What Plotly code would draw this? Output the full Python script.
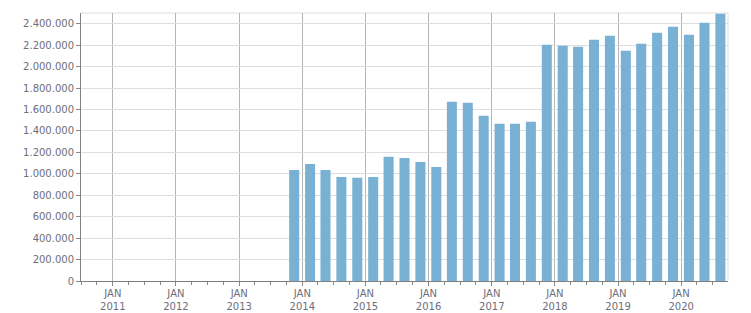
import plotly.graph_objects as go

# Quarterly observations (bar centred mid-quarter)
periods = [
    "2013-11-15",
    "2014-02-15", "2014-05-15", "2014-08-15", "2014-11-15",
    "2015-02-15", "2015-05-15", "2015-08-15", "2015-11-15",
    "2016-02-15", "2016-05-15", "2016-08-15", "2016-11-15",
    "2017-02-15", "2017-05-15", "2017-08-15", "2017-11-15",
    "2018-02-15", "2018-05-15", "2018-08-15", "2018-11-15",
    "2019-02-15", "2019-05-15", "2019-08-15", "2019-11-15",
    "2020-02-15", "2020-05-15", "2020-08-15",
]
values = [
    1036000,
    1092000, 1036000, 971000, 962000,
    971000, 1158000, 1148000, 1111000,
    1064000, 1671000, 1662000, 1541000,
    1466000, 1466000, 1485000, 2204000,
    2194000, 2185000, 2250000, 2288000,
    2148000, 2213000, 2316000, 2372000,
    2297000, 2409000, 2493000,
]

year_ticks = ["2011-01-01", "2012-01-01", "2013-01-01", "2014-01-01", "2015-01-01",
              "2016-01-01", "2017-01-01", "2018-01-01", "2019-01-01", "2020-01-01"]
year_labels = ["JAN<br>2011", "JAN<br>2012", "JAN<br>2013", "JAN<br>2014", "JAN<br>2015",
               "JAN<br>2016", "JAN<br>2017", "JAN<br>2018", "JAN<br>2019", "JAN<br>2020"]

BAR_W_MS = 58 * 86400000

fig = go.Figure(
    go.Bar(
        x=periods,
        y=values,
        width=[BAR_W_MS] * len(values),
        marker=dict(color="#78b1d3", line=dict(width=0)),
        hoverinfo="x+y",
    )
)

font_col = "#6e6e7a"
FONT = "DejaVu Sans"
fig.update_layout(
    width=751,
    height=313,
    margin=dict(l=81, r=23, t=13, b=32),
    paper_bgcolor="white",
    plot_bgcolor="white",
    separators=",.",
    showlegend=False,
    font=dict(family=FONT, size=10, color=font_col),
    xaxis=dict(
        type="date",
        automargin=False,
        range=["2010-07-01", "2020-09-28"],
        tickvals=year_ticks,
        ticktext=year_labels,
        ticks="outside",
        ticklen=4,
        tickcolor="#888888",
        ticklabelstandoff=-1,
        showgrid=True,
        gridcolor="#b5b5b5",
        gridwidth=1,
        showline=True,
        linecolor="#808080",
        linewidth=1,
        zeroline=False,
        minor=dict(ticks="outside", dtick="M3", tick0="2011-01-01", ticklen=3,
                   tickcolor="#888888", showgrid=False),
        tickfont=dict(family=FONT, size=10, color=font_col),
        fixedrange=True,
    ),
    yaxis=dict(
        automargin=False,
        range=[0, 2500000],
        dtick=200000,
        tick0=0,
        tickformat=",d",
        ticks="outside",
        ticklen=4,
        tickcolor="#888888",
        showgrid=True,
        gridcolor="#dedede",
        gridwidth=1,
        showline=True,
        linecolor="#808080",
        linewidth=1,
        zeroline=False,
        tickfont=dict(family=FONT, size=10, color=font_col),
        fixedrange=True,
    ),
    shapes=[
        dict(type="line", xref="paper", yref="paper", x0=0, x1=1, y0=1, y1=1,
             line=dict(color="#dedede", width=1), layer="below"),
        dict(type="line", xref="paper", yref="paper", x0=1, x1=1, y0=0, y1=1,
             line=dict(color="#dedede", width=1), layer="below"),
    ],
)

fig.write_html("out.html")
